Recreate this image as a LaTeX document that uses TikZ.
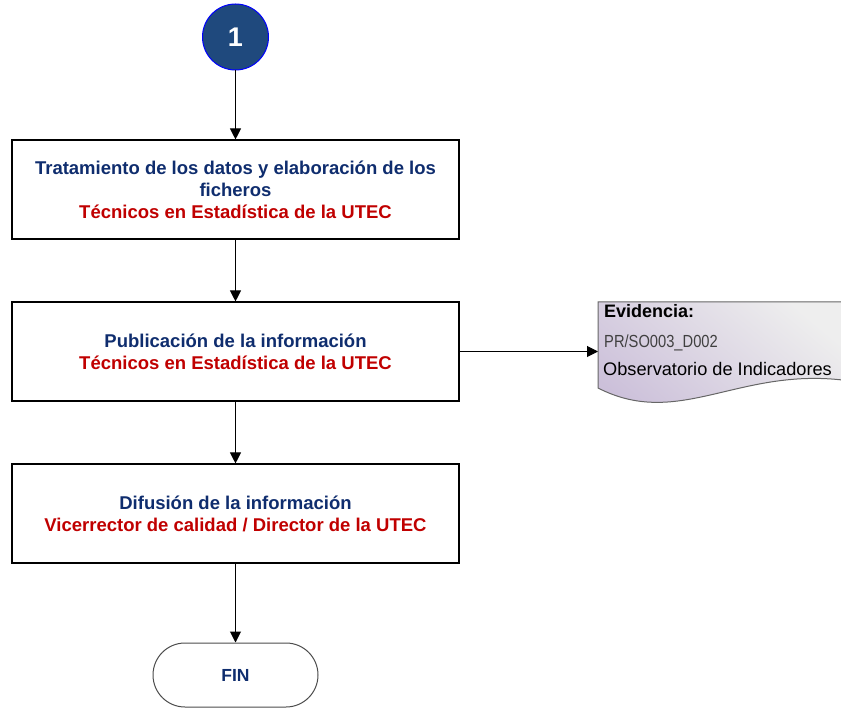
\documentclass[tikz,border=0pt]{standalone}
\usepackage{fontspec}
\setmainfont{Liberation Sans}
\newfontfamily\narrowfont[FakeStretch=0.84]{Liberation Sans}
\usetikzlibrary{arrows.meta}
\definecolor{azul}{RGB}{15,45,110}
\definecolor{rojo}{RGB}{192,0,0}
\definecolor{circfill}{RGB}{31,73,125}
\definecolor{evpurple}{RGB}{204,192,218}
\definecolor{evgrey}{RGB}{238,238,238}
\newcommand{\azul}[1]{\textcolor{azul}{#1}}
\newcommand{\rojo}[1]{\textcolor{rojo}{#1}}

\begin{document}
\begin{tikzpicture}[x=1pt,y=-1pt,
  paso/.style={draw=black,line width=1.1pt,minimum width=447pt,minimum height=99pt,
    inner sep=0pt,align=center,font=\fontsize{18.5}{22}\selectfont\bfseries},
  flecha/.style={line width=1pt,-{Triangle[length=11pt,width=11pt]}}]
\useasboundingbox (0,0) rectangle (841,708);
\clip (0,0) rectangle (841,708);
\node[circle,draw=blue,fill=circfill,line width=1pt,minimum size=66pt,inner sep=0pt,
  text=white,font=\fontsize{27}{27}\selectfont\bfseries] (uno) at (235.5,37) {1};
\node[paso] (trat) at (235.5,189.5) {\azul{Tratamiento de los datos y elaboración de los}\\
  \azul{ficheros}\\\rojo{Técnicos en Estadística de la UTEC}};
\node[paso] (publ) at (235.5,351.5) {\azul{Publicación de la información}\\
  \rojo{Técnicos en Estadística de la UTEC}};
\node[paso] (difu) at (235.5,513.5) {\azul{Difusión de la información}\\
  \rojo{Vicerrector de calidad / Director de la UTEC}};
\node[draw=black!70,line width=1pt,rounded corners=32pt,minimum width=165pt,minimum height=64pt,
  inner sep=0pt,font=\fontsize{17.5}{20}\selectfont\bfseries,text=azul] (fin) at (235.5,675) {FIN};
% documento de evidencia
\draw[draw=black!60,line width=1pt,top color=evgrey,bottom color=evpurple,shading angle=-40]
  (598,302) -- (850,302) -- (850,381) .. controls (740,365) and (680,430) .. (598,388) -- cycle;
\coordinate (evid) at (598,351.5);
\node[anchor=base west,inner sep=0pt,font=\fontsize{18}{18}\selectfont\bfseries] (evtit) at (604,317.5) {Evidencia:};
\node[anchor=base west,inner sep=0pt,font=\fontsize{17.5}{18}\narrowfont,text=black!75] (evcod) at (604,347.5) {PR/SO003\_D002};
\node[anchor=base west,inner sep=0pt,font=\fontsize{18.2}{18}\selectfont] (evobs) at (603,375.5) {Observatorio de Indicadores};
\draw[flecha] (uno) -- (trat);
\draw[flecha] (trat) -- (publ);
\draw[flecha] (publ) -- (difu);
\draw[flecha] (difu) -- (fin);
\draw[flecha] (publ.east) -- (evid);
\end{tikzpicture}
\end{document}
